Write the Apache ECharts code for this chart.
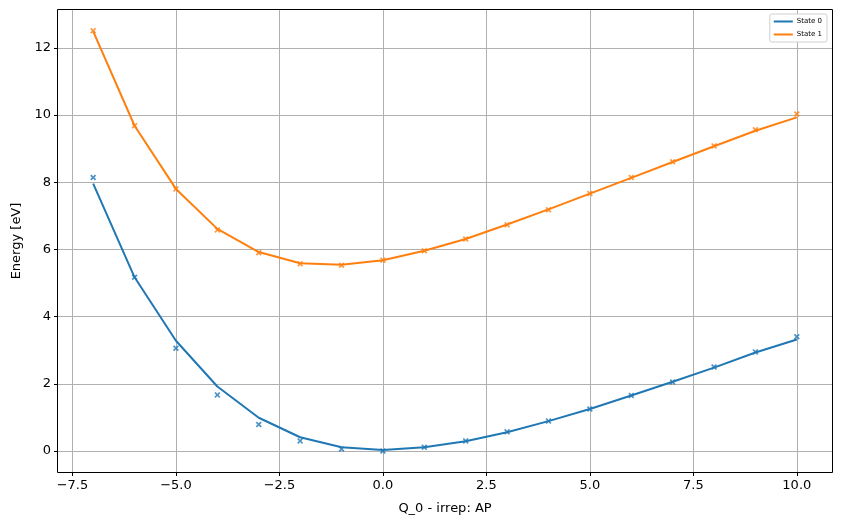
<!DOCTYPE html>
<html>
<head>
<meta charset="utf-8">
<script src="https://cdn.jsdelivr.net/npm/echarts@6/dist/echarts.min.js"></script>
<style>
  html, body { margin: 0; padding: 0; background: #fff; }
  #chart { width: 841px; height: 525px; }
</style>
</head>
<body>
<div id="chart"></div>
<script>
// displacement along Q_0
const qValues = [-7, -6, -5, -4, -3, -2, -1, 0, 1, 2, 3, 4, 5, 6, 7, 8, 9, 10];

// fitted curves
const state0Fit = [7.96, 5.17, 3.28, 1.92, 0.99, 0.41, 0.11, 0.03, 0.11, 0.29, 0.56, 0.89, 1.25, 1.65, 2.06, 2.48, 2.93, 3.32];
const state1Fit = [12.49, 9.68, 7.80, 6.61, 5.92, 5.59, 5.54, 5.68, 5.96, 6.31, 6.74, 7.19, 7.66, 8.13, 8.60, 9.07, 9.53, 9.93];

// computed points (x markers)
const state0Points = [8.14, 5.17, 3.06, 1.67, 0.79, 0.30, 0.06, 0.00, 0.11, 0.30, 0.57, 0.89, 1.25, 1.65, 2.05, 2.50, 2.95, 3.40];
const state1Points = [12.51, 9.68, 7.80, 6.58, 5.90, 5.57, 5.53, 5.68, 5.96, 6.31, 6.73, 7.18, 7.66, 8.14, 8.61, 9.08, 9.56, 10.03];

const xTicks = [-7.5, -5.0, -2.5, 0.0, 2.5, 5.0, 7.5, 10.0];
const yTicks = [0, 2, 4, 6, 8, 10, 12];

const blue = '#1f77b4';
const orange = '#ff7f0e';
const crossPath = 'path://M0,2L2,0L5,3L8,0L10,2L7,5L10,8L8,10L5,7L2,10L0,8L3,5Z';

const pairs = (ys) => qValues.map((q, i) => [q, ys[i]]);

const chart = echarts.init(document.getElementById('chart'));

const axisText = { color: '#000', fontSize: 13, fontFamily: 'DejaVu Sans' };
// spines are drawn by the rect below; keep the axis line invisible
const hiddenLine = { show: true, onZero: false, lineStyle: { color: 'rgba(0,0,0,0)' } };

chart.setOption({
  animation: false,
  grid: { left: 58, right: 9, top: 10, bottom: 53, containLabel: false },
  legend: {
    right: 14, top: 14,
    orient: 'vertical',
    data: ['State 0', 'State 1'],
    icon: 'rect',
    itemWidth: 19, itemHeight: 2,
    itemGap: 6,
    padding: [4, 5, 4, 4],
    backgroundColor: '#fff',
    borderColor: '#d0d0d0',
    borderWidth: 1,
    borderRadius: 2,
    textStyle: { fontSize: 7, color: '#000', fontFamily: 'DejaVu Sans', padding: [0, 0, 0, -1] }
  },
  xAxis: {
    type: 'value',
    min: -7.85, max: 10.85,
    name: 'Q_0 - irrep: AP',
    nameLocation: 'middle',
    nameGap: 30,
    nameTextStyle: axisText,
    axisLine: hiddenLine,
    axisTick: { show: true, inside: false, length: 4, lineStyle: { color: '#000' }, customValues: xTicks },
    axisLabel: Object.assign({
      customValues: xTicks, margin: 7,
      formatter: (v) => v.toFixed(1).replace('-', '\u2212')
    }, axisText),
    splitLine: { show: true, lineStyle: { color: '#b0b0b0', width: 1 } }
  },
  yAxis: {
    type: 'value',
    min: -0.625, max: 13.125,
    name: 'Energy [eV]',
    nameLocation: 'middle',
    nameGap: 35,
    nameTextStyle: axisText,
    axisLine: hiddenLine,
    axisTick: { show: true, inside: false, length: 4, lineStyle: { color: '#000' }, customValues: yTicks },
    axisLabel: Object.assign({ customValues: yTicks, margin: 7 }, axisText),
    splitLine: { show: true, lineStyle: { color: '#b0b0b0', width: 1 } }
  },
  series: [
    {
      name: 'State 0', type: 'line', data: pairs(state0Fit),
      showSymbol: false, symbol: 'none',
      lineStyle: { color: blue, width: 2 }, itemStyle: { color: blue }
    },
    {
      name: 'State 1', type: 'line', data: pairs(state1Fit),
      showSymbol: false, symbol: 'none',
      lineStyle: { color: orange, width: 2 }, itemStyle: { color: orange }
    },
    {
      name: 'State 0 points', type: 'scatter', data: pairs(state0Points),
      symbol: crossPath, symbolSize: 6, itemStyle: { color: blue }
    },
    {
      name: 'State 1 points', type: 'scatter', data: pairs(state1Points),
      symbol: crossPath, symbolSize: 6, itemStyle: { color: orange }
    }
  ],
  graphic: [{
    type: 'rect',
    shape: { x: 57.5, y: 9.5, width: 775, height: 463 },
    style: { fill: 'none', stroke: '#000', lineWidth: 1 },
    silent: true, z: 10
  }]
});
</script>
</body>
</html>
